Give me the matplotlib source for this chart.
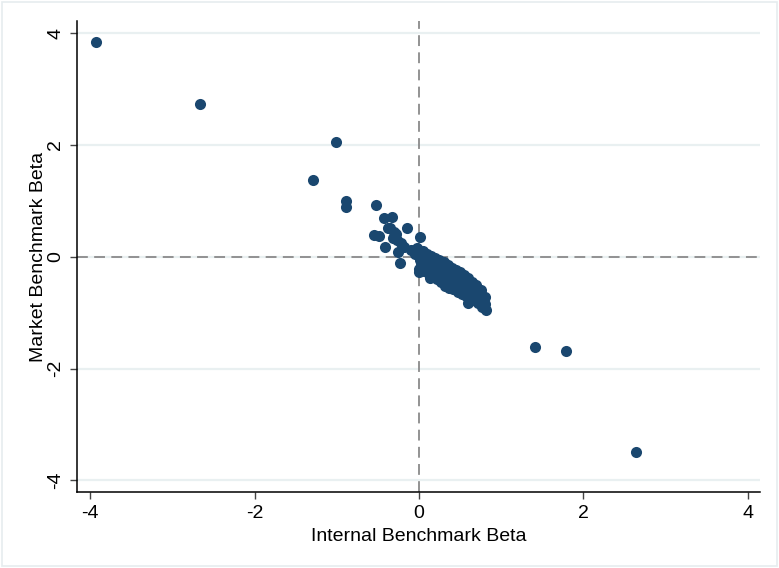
import matplotlib
matplotlib.use('Agg')
import matplotlib.pyplot as plt
from matplotlib.patches import Rectangle

# internal benchmark beta (x) and market benchmark beta (y)
internal_beta = [
    -3.93, -2.66, -1.01, -1.29, -0.89, -0.89, -0.52, -0.55, -0.48, -0.41,
    -0.43, -0.33, -0.35, -0.30, -0.32, -0.27, -0.22, -0.15, -0.26, -0.23,
    -0.18, -0.10, -0.05, 0.01, 0.00, -0.02, -0.28, -0.38,
    0.00, 0.01, 0.02, 0.00,
    0.05, 0.06, 0.04, 0.06,
    0.10, 0.11, 0.09, 0.12, 0.13,
    0.15, 0.16, 0.15, 0.17,
    0.20, 0.21, 0.19, 0.22,
    0.25, 0.26, 0.24, 0.27,
    0.30, 0.31, 0.29, 0.32,
    0.35, 0.36, 0.34, 0.37,
    0.40, 0.41, 0.39, 0.42,
    0.45, 0.46, 0.44, 0.47,
    0.50, 0.51, 0.49, 0.52,
    0.55, 0.56, 0.54, 0.57,
    0.60, 0.61, 0.59, 0.60,
    0.65, 0.66, 0.64, 0.66,
    0.70, 0.71, 0.69, 0.72,
    0.75, 0.76, 0.74, 0.77,
    0.80, 0.80, 0.82,
    1.41, 1.79, 2.64,
]
market_beta = [
    3.85, 2.74, 2.05, 1.37, 1.00, 0.89, 0.92, 0.39, 0.37, 0.17,
    0.69, 0.71, 0.51, 0.45, 0.34, 0.30, 0.25, 0.51, 0.09, -0.11,
    0.18, 0.12, 0.05, 0.35, -0.27, 0.15, 0.40, 0.52,
    0.08, -0.05, -0.15, -0.22,
    0.10, 0.00, -0.10, -0.25,
    0.05, -0.05, -0.18, -0.30, -0.38,
    0.02, -0.12, -0.25, -0.35,
    -0.02, -0.15, -0.28, -0.40,
    -0.05, -0.20, -0.33, -0.45,
    -0.10, -0.25, -0.38, -0.52,
    -0.15, -0.28, -0.42, -0.55,
    -0.20, -0.33, -0.47, -0.58,
    -0.24, -0.38, -0.50, -0.63,
    -0.28, -0.42, -0.55, -0.67,
    -0.33, -0.47, -0.60, -0.71,
    -0.38, -0.52, -0.65, -0.83,
    -0.45, -0.58, -0.70, -0.78,
    -0.50, -0.62, -0.75, -0.82,
    -0.60, -0.70, -0.80, -0.90,
    -0.72, -0.84, -0.96,
    -1.62, -1.69, -3.49,
]
ticks = [-4, -2, 0, 2, 4]

plt.rcParams['font.family'] = ['Liberation Sans', 'DejaVu Sans']

fig = plt.figure(figsize=(7.79, 5.68), dpi=100)
ax = fig.add_axes([0.0988, 0.1338, 0.8768, 0.8292])

# stata style outer region border
fig.patches.append(Rectangle((0.003, 0.003), 0.994, 0.994, transform=fig.transFigure,
                             fill=False, edgecolor='#e6ecef', linewidth=1.2))

ax.set_xlim(-4.16, 4.15)
ax.set_ylim(-4.21, 4.22)
ax.set_xticks(ticks)
ax.set_yticks(ticks)
ax.set_xticklabels([str(t) for t in ticks], fontsize=14)
ax.set_yticklabels([str(t) for t in ticks], fontsize=14, rotation=90, va='center')

for t in ticks:
    ax.axhline(t, color='#e9f0f1', linewidth=1.6, zorder=0)

ax.axvline(0, color='#8a8a8a', linestyle=(0, (6, 3.5)), linewidth=1.3, zorder=1)
ax.axhline(0, color='#8a8a8a', linestyle=(0, (6, 3.5)), linewidth=1.3, zorder=1)

ax.scatter(internal_beta, market_beta, s=64, color='#1a476f', linewidths=0, zorder=3)

ax.spines['top'].set_visible(False)
ax.spines['right'].set_visible(False)
ax.spines['left'].set_linewidth(1.1)
ax.spines['bottom'].set_linewidth(1.1)
ax.tick_params(direction='out', length=5, width=1, color='#444444', pad=4)

ax.set_xlabel('Internal Benchmark Beta', fontsize=14, labelpad=5)
ax.set_ylabel('Market Benchmark Beta', fontsize=14, labelpad=0)

fig.savefig('out.png', dpi=100)
